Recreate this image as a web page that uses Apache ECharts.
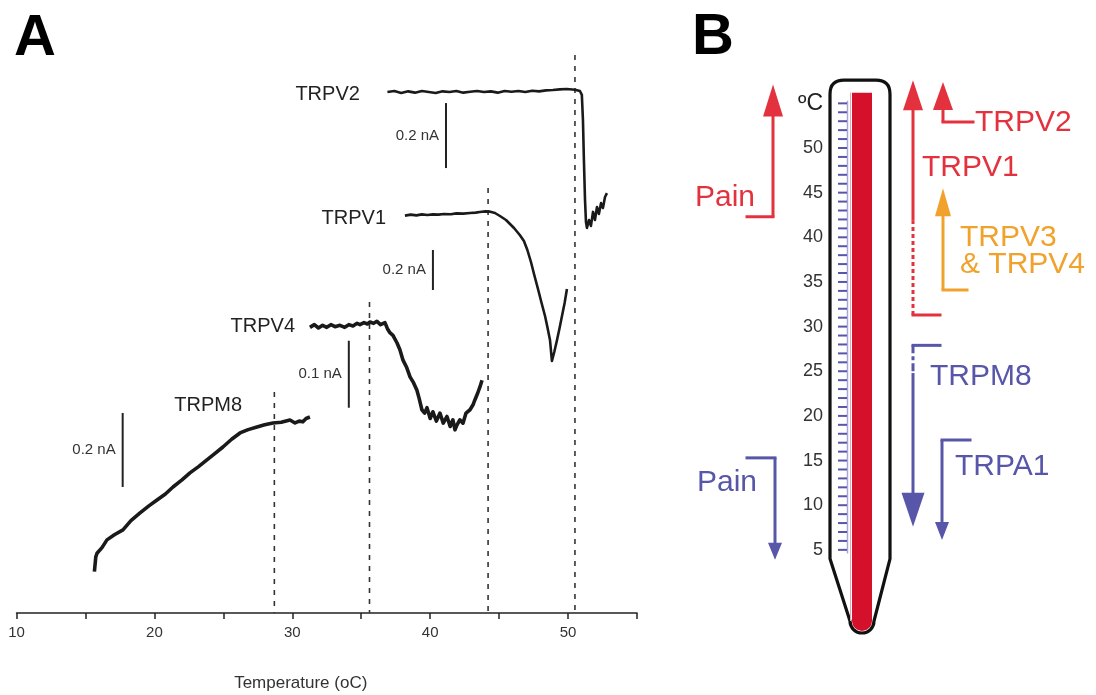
<!DOCTYPE html>
<html>
<head>
<meta charset="utf-8">
<script src="https://cdn.jsdelivr.net/npm/echarts@6/dist/echarts.min.js"></script>
<style>
  html, body { margin: 0; padding: 0; background: #fff; }
  #chart { width: 1096px; height: 695px; }
</style>
</head>
<body>
<div id="chart"></div>
<script>
// ---------- Panel A: currents recorded during temperature ramps ----------
const xTicks = [10, 20, 30, 40, 50];
const traceNames = ['TRPV2', 'TRPV1', 'TRPV4', 'TRPM8'];
const thresholds = [50.5, 44.2, 35.6, 28.7];          // activation temperature, °C
const scaleBars = [0.2, 0.2, 0.1, 0.2];               // nA
const scaleBarLabels = ['0.2 nA', '0.2 nA', '0.1 nA', '0.2 nA'];

// [temperature °C, current nA]
const trpv2 = [
  [36.9, 0.000], [37.4, 0.003], [37.9, -0.003], [38.4, 0.002], [38.9, -0.002], [39.4, 0.003],
  [39.9, 0.000], [40.4, -0.003], [40.9, 0.002], [41.4, 0.000], [41.9, 0.003], [42.4, -0.002],
  [42.9, 0.001], [43.4, 0.003], [43.9, 0.000], [44.4, 0.002], [44.9, -0.002], [45.4, 0.003],
  [45.9, 0.001], [46.4, 0.003], [46.9, 0.000], [47.4, 0.004], [47.9, 0.002], [48.4, 0.005],
  [48.9, 0.006], [49.4, 0.008], [49.9, 0.009], [50.5, 0.007], [50.86, 0.003], [51.0, -0.009],
  [51.08, -0.086], [51.15, -0.209], [51.23, -0.332], [51.3, -0.40], [51.37, -0.418], [51.52, -0.394],
  [51.66, -0.412], [51.81, -0.369], [51.95, -0.394], [52.1, -0.354], [52.24, -0.375], [52.39, -0.342],
  [52.53, -0.357], [52.68, -0.323], [52.82, -0.311]
];
const trpv1 = [
  [38.17, -0.003], [38.6, 0.002], [39.0, -0.002], [39.4, 0.003], [39.8, 0.000], [40.2, 0.003],
  [40.6, 0.002], [41.0, 0.005], [41.5, 0.004], [41.9, 0.008], [42.4, 0.007], [42.9, 0.010],
  [43.3, 0.012], [43.6, 0.015], [44.0, 0.018], [44.3, 0.017], [44.7, 0.010], [45.06, -0.005],
  [45.5, -0.025], [46.08, -0.065], [46.5, -0.100], [46.8, -0.130], [47.05, -0.175], [47.31, -0.235],
  [47.55, -0.300], [47.82, -0.370], [48.08, -0.440], [48.33, -0.505], [48.5, -0.560], [48.69, -0.625],
  [48.83, -0.730], [49.0, -0.685], [49.2, -0.625], [49.4, -0.560], [49.56, -0.505], [49.75, -0.440],
  [49.92, -0.370]
];
const trpv4 = [
  [31.28, -0.002], [31.6, 0.002], [31.9, -0.003], [32.2, 0.001], [32.5, -0.002], [32.8, 0.002],
  [33.1, -0.001], [33.46, 0.001], [33.8, -0.002], [34.1, 0.002], [34.4, 0.000], [34.7, 0.004],
  [34.91, 0.002], [35.2, 0.005], [35.45, 0.003], [35.64, 0.006], [35.9, 0.004], [36.14, 0.007],
  [36.4, 0.002], [36.72, 0.005], [36.9, -0.004], [37.08, -0.010], [37.3, -0.014], [37.59, -0.025],
  [37.8, -0.035], [38.03, -0.051], [38.3, -0.062], [38.54, -0.076], [38.8, -0.085], [39.04, -0.096],
  [39.2, -0.108], [39.4, -0.125], [39.6, -0.130], [39.77, -0.122], [40.0, -0.138], [40.2, -0.128],
  [40.45, -0.142], [40.71, -0.130], [40.95, -0.145], [41.22, -0.135], [41.45, -0.150], [41.65, -0.140],
  [41.8, -0.155], [41.94, -0.148], [42.15, -0.140], [42.38, -0.145], [42.6, -0.130], [42.89, -0.125],
  [43.1, -0.118], [43.25, -0.110], [43.45, -0.100], [43.61, -0.091], [43.76, -0.081]
];
const trpm8 = [
  [15.65, -0.410], [15.75, -0.370], [15.84, -0.360], [16.2, -0.345], [16.56, -0.324], [17.1, -0.310],
  [17.72, -0.297], [18.3, -0.272], [18.96, -0.251], [19.6, -0.232], [20.19, -0.216], [20.8, -0.200],
  [21.35, -0.181], [22.0, -0.162], [22.58, -0.143], [23.2, -0.126], [23.81, -0.108], [24.4, -0.090],
  [24.97, -0.073], [25.6, -0.052], [26.21, -0.035], [26.8, -0.026], [27.44, -0.019], [28.0, -0.013],
  [28.6, -0.008], [29.2, -0.006], [29.83, 0.000], [30.2, -0.008], [30.5, -0.003], [30.77, -0.005],
  [31.0, 0.004], [31.28, 0.008]
];
const traces = [trpv2, trpv1, trpv4, trpm8];

// ---------- Panel B: thermometer with channel activation ranges ----------
const thermoLabels = [5, 10, 15, 20, 25, 30, 35, 40, 45, 50];
const thermoUnit = 'ºC';
const rangeNames = ['Pain', 'TRPV1', 'TRPV2', 'TRPV3\n& TRPV4', 'TRPM8', 'TRPA1', 'Pain'];
const rangeFrom  = [42.3, 31.3, 52.9, 34.1, 27.9, 17.3, 15.3];   // °C where each arrow starts
const rangeSolid = [42.3, 41.9, 52.9, 34.1, 24.8, 17.3, 15.3];   // °C where the broken lead-in ends
const rangeTo    = [57.1, 57.6, 57.4, 45.5, 7.6, 6.1, 3.9];      // °C at the arrow tip

// ---------- layout and styling ----------
const FONT = '"Liberation Sans", Arial, Helvetica, sans-serif';
const INK = '#1a1a1a';
const RED = '#e3323e';
const BLUE = '#5856a8';
const ORANGE = '#f0a22c';
const COLUMN = '#d4102a';

const gridA = { left: 16.5, top: 40, width: 620.5, height: 573 };
const traceLayout = [
  { base: 92,  k: 325, width: 2.6, nameAt: [34.9, -0.009], nameAlign: 'right',  barAt: 41.15, barTop: -0.034, dashTop: 0.114 },
  { base: 215, k: 200, width: 2.6, nameAt: [36.8, -0.015], nameAlign: 'right',  barAt: 40.2,  barTop: -0.175, dashTop: 0.135 },
  { base: 326, k: 670, width: 3.6, nameAt: [30.2, 0.000],  nameAlign: 'right',  barAt: 34.1,  barTop: -0.022, dashTop: 0.036 },
  { base: 420, k: 370, width: 3.6, nameAt: [23.9, 0.038],  nameAlign: 'center', barAt: 17.7,  barTop: 0.019,  dashTop: 0.076 }
];
const gridBottom = gridA.top + gridA.height;

const gridB = { left: 680, top: 58.7, width: 410, height: 535.8 };  // y: 0..60 °C
const arrowLayout = [
  { lane: 93,  foot: -26, hw: 20, hh: 32, color: RED,    dash: null,         label: [75, 44.4],  align: 'right' },
  { lane: 233, foot: 27,  hw: 20, hh: 30, color: RED,    dash: [4, 3],       label: [242, 47.8], align: 'left' },
  { lane: 263, foot: 30,  hw: 20, hh: 28, color: RED,    dash: null,         label: [295, 52.8], align: 'left' },
  { lane: 263, foot: 24,  hw: 16, hh: 28, color: ORANGE, dash: null,         label: [280, 38.4], align: 'left' },
  { lane: 233, foot: 27,  hw: 23, hh: 34, color: BLUE,   dash: [8, 3, 4, 3], label: [250, 24.4], align: 'left' },
  { lane: 262, foot: 28,  hw: 14, hh: 18, color: BLUE,   dash: null,         label: [275, 14.3], align: 'left' },
  { lane: 95,  foot: -28, hw: 14, hh: 17, color: BLUE,   dash: null,         label: [77, 12.5],  align: 'right' }
];
const tube = { left: 150, right: 210, topT: 57.6, corner: 14, taperT: 4.0, bulbT: -2.97, bulbX: 182, bulbR: 12,
               colLeft: 172, colRight: 192, colTopT: 56.2, colR: 10, tickL: 158, tickR: 167 };

// ---------- option ----------
const yAxes = traceLayout.map(L => ({
  gridIndex: 0, type: 'value', show: false,
  min: (L.base - gridBottom) / L.k, max: (L.base - gridA.top) / L.k
}));
yAxes.push({
  gridIndex: 1, type: 'value', min: 0, max: 60, interval: 5, offset: -(tube.left),
  axisLine: { show: false }, axisTick: { show: false }, splitLine: { show: false },
  axisLabel: {
    margin: 7, color: '#333', fontFamily: FONT, fontSize: 18,
    formatter: v => v === 55 ? '{u|' + thermoUnit + '}' : (thermoLabels.includes(v) ? String(v) : ''),
    rich: { u: { fontSize: 23, fontFamily: FONT, color: '#222' } }
  }
});

const series = [];
traces.forEach((data, i) => {
  const L = traceLayout[i];
  const yMin = yAxes[i].min;
  series.push({
    type: 'line', xAxisIndex: 0, yAxisIndex: i, data: [[thresholds[i], L.dashTop], [thresholds[i], yMin]],
    symbol: 'none', silent: true, z: 1,
    lineStyle: { color: '#333', width: 1.6, type: [5, 6] }
  });
  series.push({
    type: 'line', xAxisIndex: 0, yAxisIndex: i, data: data, symbol: 'none', silent: true, z: 3,
    lineStyle: { color: INK, width: L.width, join: 'round' }
  });
  series.push({
    type: 'custom', xAxisIndex: 0, yAxisIndex: i, clip: false, silent: true, z: 4,
    data: [[L.barAt, L.barTop, L.barTop - scaleBars[i]]],
    encode: { x: 0, y: [1, 2] },
    renderItem: (params, api) => {
      const top = api.coord([api.value(0), api.value(1)]);
      const bot = api.coord([api.value(0), api.value(2)]);
      const nm = api.coord(L.nameAt);
      return {
        type: 'group', children: [
          { type: 'line', shape: { x1: top[0], y1: top[1], x2: bot[0], y2: bot[1] },
            style: { stroke: '#222', lineWidth: 2 } },
          { type: 'text', x: top[0] - 7, y: (top[1] + bot[1]) / 2,
            style: { text: scaleBarLabels[i], fontSize: 15, fontFamily: FONT, fill: '#333', align: 'right', verticalAlign: 'middle' } },
          { type: 'text', x: nm[0], y: nm[1],
            style: { text: traceNames[i], fontSize: 20, fontFamily: FONT, fill: '#222', align: L.nameAlign, verticalAlign: 'middle' } }
        ]
      };
    }
  });
});

// thermometer body, column and scale
series.push({
  type: 'custom', xAxisIndex: 1, yAxisIndex: 4, clip: false, silent: true, z: 2,
  data: [[tube.left, tube.topT]],
  renderItem: (params, api) => {
    const px = (lane, t) => api.coord([lane, t]);
    const xL = px(tube.left, 0)[0], xR = px(tube.right, 0)[0];
    const yTop = px(0, tube.topT)[1], yTaper = px(0, tube.taperT)[1];
    const [cx, cy] = px(tube.bulbX, tube.bulbT);
    const r = tube.bulbR, c = tube.corner;
    const outline = `M${xL},${yTaper} L${xL},${yTop + c} Q${xL},${yTop} ${xL + c},${yTop} ` +
      `L${xR - c},${yTop} Q${xR},${yTop} ${xR},${yTop + c} L${xR},${yTaper} ` +
      `L${cx + r},${cy} A${r},${r} 0 0 1 ${cx - r},${cy} Z`;
    const cL = px(tube.colLeft, 0)[0], cR = px(tube.colRight, 0)[0];
    const cTop = px(0, tube.colTopT)[1], cr = tube.colR;
    const column = `M${cL},${cTop} L${cR},${cTop} L${cR},${cy} A${cr},${cr} 0 0 1 ${cL},${cy} Z`;
    const kids = [
      { type: 'path', shape: { pathData: column }, style: { fill: COLUMN } },
      { type: 'path', shape: { pathData: outline }, style: { fill: 'none', stroke: '#111', lineWidth: 3.2, lineJoin: 'round' } }
    ];
    const tL = px(tube.tickL, 0)[0], tR = px(tube.tickR, 0)[0];
    kids.push({ type: 'line', shape: { x1: tR + 0.5, y1: px(0, 55.3)[1], x2: tR + 0.5, y2: px(0, 4.6)[1] },
                style: { stroke: '#a9a7d8', lineWidth: 1.5 } });
    kids.push({ type: 'line', shape: { x1: cL - 1.5, y1: cTop, x2: cL - 1.5, y2: cy },
                style: { stroke: '#f2a3b3', lineWidth: 1 } });
    for (let t = 5; t <= 55; t++) {
      const y = px(0, t)[1];
      kids.push({ type: 'line', shape: { x1: tL, y1: y, x2: tR, y2: y }, style: { stroke: BLUE, lineWidth: 2 } });
    }
    return { type: 'group', children: kids };
  }
});

// activation-range arrows and their labels
series.push({
  type: 'custom', xAxisIndex: 1, yAxisIndex: 4, clip: false, silent: true, z: 3,
  data: rangeNames.map((n, i) => [arrowLayout[i].lane, rangeFrom[i], rangeTo[i], rangeSolid[i]]),
  encode: { x: 0, y: [1, 2] },
  renderItem: (params, api) => {
    const i = params.dataIndex;
    const A = arrowLayout[i];
    const pFrom = api.coord([api.value(0), api.value(1)]);
    const pTip = api.coord([api.value(0), api.value(2)]);
    const pSolid = api.coord([api.value(0), api.value(3)]);
    const x = pFrom[0];
    const dir = pTip[1] < pFrom[1] ? -1 : 1;
    const headBase = pTip[1] - dir * A.hh;
    const kids = [];
    kids.push({ type: 'line', shape: { x1: x + A.foot, y1: pFrom[1], x2: x, y2: pFrom[1] },
                style: { stroke: A.color, lineWidth: 3, lineCap: 'square' } });
    if (A.dash) {
      kids.push({ type: 'line', shape: { x1: x, y1: pFrom[1], x2: x, y2: pSolid[1] },
                  style: { stroke: A.color, lineWidth: 3, lineDash: A.dash } });
    }
    kids.push({ type: 'line', shape: { x1: x, y1: pSolid[1], x2: x, y2: headBase + dir * 1 },
                style: { stroke: A.color, lineWidth: 3 } });
    kids.push({ type: 'polygon', shape: { points: [[x - A.hw / 2, headBase], [x + A.hw / 2, headBase], [x, pTip[1]]] },
                style: { fill: A.color } });
    const lp = api.coord(A.label);
    kids.push({ type: 'text', x: lp[0], y: lp[1],
                style: { text: rangeNames[i], fontSize: 30, fontFamily: FONT, fill: A.color,
                         align: A.align, verticalAlign: 'middle', lineHeight: 27 } });
    return { type: 'group', children: kids };
  }
});

const option = {
  animation: false,
  backgroundColor: '#ffffff',
  title: [
    { text: 'A', left: 14, top: 10, padding: 0, textStyle: { fontSize: 58, fontWeight: 'bold', fontFamily: FONT, color: '#000' } },
    { text: 'B', left: 692, top: 9, padding: 0, textStyle: { fontSize: 58, fontWeight: 'bold', fontFamily: FONT, color: '#000' } }
  ],
  grid: [
    { left: gridA.left, top: gridA.top, width: gridA.width, height: gridA.height, outerBoundsMode: 'none', containLabel: false },
    { left: gridB.left, top: gridB.top, width: gridB.width, height: gridB.height, outerBoundsMode: 'none', containLabel: false }
  ],
  xAxis: [
    {
      gridIndex: 0, type: 'value', min: 10, max: 55, interval: 5,
      axisLine: { onZero: false, lineStyle: { color: '#222', width: 1.5 } },
      axisTick: { length: 6, lineStyle: { color: '#222', width: 1.5 } },
      splitLine: { show: false },
      axisLabel: { formatter: v => xTicks.includes(v) ? String(v) : '', fontSize: 15, color: '#333', fontFamily: FONT, margin: 12 },
      name: 'Temperature (oC)', nameLocation: 'middle', nameGap: 62,
      nameTextStyle: { fontSize: 17, color: '#333', fontFamily: FONT, padding: [0, 52, 0, 0] }
    },
    { gridIndex: 1, type: 'value', min: 0, max: 410, show: false, axisLine: { onZero: false } }
  ],
  yAxis: yAxes,
  series: series
};

const chart = echarts.init(document.getElementById('chart'), null, { renderer: 'canvas' });
chart.setOption(option);
</script>
</body>
</html>
